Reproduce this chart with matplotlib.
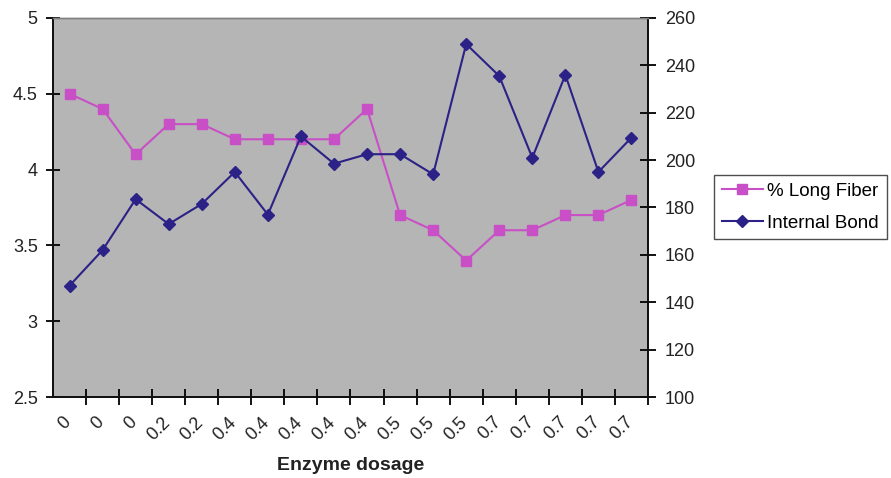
import matplotlib
matplotlib.use("Agg")
import matplotlib.pyplot as plt
import matplotlib.transforms as mtransforms

plt.rcParams['font.family'] = ['Liberation Sans', 'DejaVu Sans']

dosage_labels = ["0", "0", "0", "0.2", "0.2", "0.4", "0.4", "0.4", "0.4", "0.4",
                 "0.5", "0.5", "0.5", "0.7", "0.7", "0.7", "0.7", "0.7"]
long_fiber = [4.5, 4.4, 4.1, 4.3, 4.3, 4.2, 4.2, 4.2, 4.2, 4.4,
              3.7, 3.6, 3.4, 3.6, 3.6, 3.7, 3.7, 3.8]
internal_bond = [147, 162, 183.5, 173, 181.5, 195, 177, 210, 198.5, 202.5,
                 202.5, 194, 249, 235.5, 201, 236, 195, 209.5]

MAGENTA = '#c94fc6'
NAVY = '#2b2186'
TEXT = '#222222'

fig = plt.figure(figsize=(8.91, 4.78), dpi=100)
ax = fig.add_axes([53/891, 1 - 397/478, (648 - 53)/891, (397 - 18)/478])
ax.set_facecolor('#b5b5b5')

x = list(range(len(dosage_labels)))
l1, = ax.plot(x, long_fiber, color=MAGENTA, marker='s', markersize=6.5, lw=1.5,
              label='% Long Fiber')
ax.set_ylim(2.5, 5)
ax.set_yticks([2.5, 3, 3.5, 4, 4.5, 5])
ax.set_yticklabels(['2.5', '3', '3.5', '4', '4.5', '5'])
ax.set_xlim(-0.5, len(x) - 0.5)

ax2 = ax.twinx()
l2, = ax2.plot(x, internal_bond, color=NAVY, marker='D', markersize=6.5, lw=1.5,
               label='Internal Bond')
ax2.set_ylim(100, 260)
ax2.set_yticks(range(100, 261, 20))

# category boundary ticks with labels centred on each category
ax.set_xticks([i - 0.5 for i in range(1, len(x) + 1)], minor=False)
ax.set_xticklabels([])
ax.set_xticks(x, minor=True)
ax.set_xticklabels(dosage_labels, minor=True, rotation=45, ha='right',
                   rotation_mode='anchor', fontsize=13, color=TEXT)
ax.tick_params(axis='x', which='minor', length=0, pad=12)
offset = mtransforms.ScaledTranslation(-7/100, 0, fig.dpi_scale_trans)
for lab in ax.get_xticklabels(minor=True):
    lab.set_transform(lab.get_transform() + offset)

ax.tick_params(axis='x', which='major', direction='inout', length=12, width=1.3)
ax.tick_params(axis='y', direction='inout', length=10, width=1.3, labelsize=13,
               labelcolor=TEXT, pad=6)
ax2.tick_params(axis='y', direction='inout', length=12, width=1.3, labelsize=13,
                labelcolor=TEXT, pad=6)

for a in (ax, ax2):
    a.spines['top'].set_color('#808080')
    a.spines['top'].set_linewidth(1.0)
    for s in ('left', 'right', 'bottom'):
        a.spines[s].set_color('#111111')
        a.spines[s].set_linewidth(1.3)

ax.set_xlabel('Enzyme dosage', fontsize=14, fontweight='bold', color=TEXT,
              labelpad=10)

leg = fig.legend(handles=[l1, l2], loc='upper left',
                 bbox_to_anchor=(714/891, 1 - 175/478),
                 frameon=True, fancybox=False, edgecolor=TEXT,
                 fontsize=13.5, handlelength=2.2, borderpad=0.4,
                 labelspacing=0.8, handletextpad=0.25, borderaxespad=0)
leg.get_frame().set_linewidth(1.0)

fig.savefig('out.png', dpi=100)
